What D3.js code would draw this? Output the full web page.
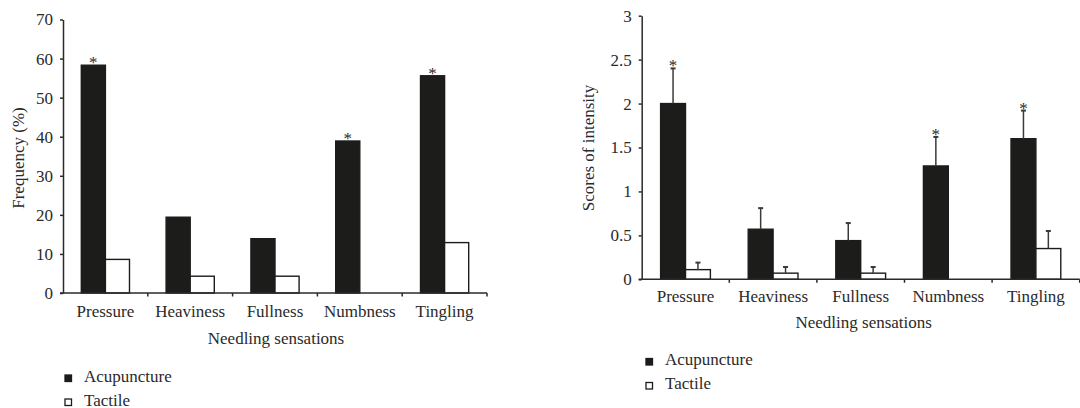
<!DOCTYPE html>
<html>
<head>
<meta charset="utf-8">
<script src="https://cdn.jsdelivr.net/npm/d3@7"></script>
<style>
  html, body { margin: 0; padding: 0; background: #fff; }
  svg { display: block; }
  text { font-family: "Liberation Serif", "DejaVu Serif", serif; fill: #2a2a2a; }
</style>
</head>
<body>
<svg id="chart" width="1080" height="408"></svg>
<script>
// ---- data ----
const categories = ["Pressure", "Heaviness", "Fullness", "Numbness", "Tingling"];
const seriesNames = ["Acupuncture", "Tactile"];

// Left panel: frequency (%)
const freqAcupuncture = [58.3, 19.4, 13.9, 38.9, 55.6];
const freqTactile = [8.6, 4.3, 4.3, 0, 12.9];
const freqTicks = [0, 10, 20, 30, 40, 50, 60, 70];
const freqSignificant = ["Pressure", "Numbness", "Tingling"];

// Right panel: scores of intensity (mean + SD)
const scoreAcupuncture = [2.0, 0.57, 0.44, 1.29, 1.6];
const scoreAcupunctureErr = [0.4, 0.24, 0.2, 0.33, 0.32];
const scoreTactile = [0.11, 0.07, 0.07, 0, 0.35];
const scoreTactileErr = [0.08, 0.07, 0.07, 0, 0.2];
const scoreTicks = [0, 0.5, 1, 1.5, 2, 2.5, 3];
const scoreTickLabels = ["0", "0.5", "1", "1.5", "2", "2.5", "3"];
const scoreSignificant = ["Pressure", "Numbness", "Tingling"];

const xTitle = "Needling sensations";

// ---- drawing ----
const svg = d3.select("#chart");
const FS = 17;
const barFill = ["#1c1c1a", "#ffffff"];
const axisColor = "#2a2a2a";

function panel(opts) {
  const g = svg.append("g");
  const x = d3.scaleBand().domain(categories).range([opts.x0, opts.x1]).padding(0);
  const xs = d3.scaleBand().domain(seriesNames).range([0, x.bandwidth()]).paddingInner(0).paddingOuter(0.76);
  const y = d3.scaleLinear().domain(opts.domain).range([opts.y0, opts.y1]);

  const values = [opts.a, opts.t];
  const errs = opts.errs;

  // bars
  seriesNames.forEach((s, si) => {
    g.selectAll(null).data(categories).enter().append("rect")
      .attr("x", c => x(c) + xs(s))
      .attr("y", (c, i) => y(values[si][i]))
      .attr("width", xs.bandwidth())
      .attr("height", (c, i) => y(0) - y(values[si][i]))
      .attr("fill", barFill[si])
      .attr("stroke", "#1c1c1a")
      .attr("stroke-width", 1.4);
  });

  // error bars
  if (errs) {
    seriesNames.forEach((s, si) => {
      categories.forEach((c, i) => {
        const v = values[si][i], e = errs[si][i];
        if (e <= 0) return;
        const cx = x(c) + xs(s) + xs.bandwidth() / 2;
        g.append("line").attr("x1", cx).attr("x2", cx)
          .attr("y1", y(v)).attr("y2", y(v + e))
          .attr("stroke", "#3a3a3a").attr("stroke-width", 1.5);
        g.append("line").attr("x1", cx - 2.5).attr("x2", cx + 2.5)
          .attr("y1", y(v + e)).attr("y2", y(v + e))
          .attr("stroke", "#3a3a3a").attr("stroke-width", 2);
      });
    });
  }

  // asterisks
  opts.sig.forEach(c => {
    const i = categories.indexOf(c);
    const top = opts.a[i] + (errs ? errs[0][i] : 0);
    g.append("text")
      .attr("x", x(c) + xs("Acupuncture") + xs.bandwidth() / 2)
      .attr("y", y(top) + 3)
      .attr("text-anchor", "middle")
      .attr("font-size", FS)
      .text("*");
  });

  // y axis
  const ya = g.append("g").attr("transform", `translate(${opts.x0},0)`)
    .call(d3.axisLeft(y).tickValues(opts.ticks).tickFormat((d, i) => opts.tickLabels[i])
      .tickSize(3).tickSizeOuter(0).tickPadding(7));
  ya.select(".domain").attr("stroke", axisColor).attr("stroke-width", 1.5);
  ya.selectAll(".tick line").attr("stroke", axisColor).attr("stroke-width", 1.5);
  ya.selectAll(".tick text").attr("font-size", FS).attr("font-family", "Liberation Serif").attr("fill", "#2a2a2a");

  // x axis line + boundary ticks
  g.append("line").attr("x1", opts.x0 - 3).attr("x2", opts.x1)
    .attr("y1", y(0)).attr("y2", y(0))
    .attr("stroke", axisColor).attr("stroke-width", 1.5);
  g.selectAll(null).data(categories).enter().append("line")
    .attr("x1", c => x(c) + x.bandwidth()).attr("x2", c => x(c) + x.bandwidth())
    .attr("y1", y(0)).attr("y2", y(0) + 3.5)
    .attr("stroke", axisColor).attr("stroke-width", 1.5);

  // category labels
  g.selectAll(null).data(categories).enter().append("text")
    .attr("x", c => x(c) + x.bandwidth() / 2)
    .attr("y", y(0) + opts.catDy)
    .attr("text-anchor", "middle")
    .attr("font-size", FS)
    .text(c => c);

  // x title
  g.append("text")
    .attr("x", (opts.x0 + opts.x1) / 2 + opts.titleDx)
    .attr("y", y(0) + opts.titleDy)
    .attr("text-anchor", "middle")
    .attr("font-size", FS)
    .text(xTitle);

  // y title
  g.append("text")
    .attr("transform", `translate(${opts.yLabelX},${opts.yLabelY}) rotate(-90)`)
    .attr("text-anchor", "middle")
    .attr("font-size", FS)
    .text(opts.yTitle);

  // legend
  seriesNames.forEach((s, si) => {
    const ly = opts.legendY + si * opts.legendStep;
    g.append("rect")
      .attr("x", opts.legendX).attr("y", ly - 6.5)
      .attr("width", 6.5).attr("height", 6.5)
      .attr("fill", barFill[si]).attr("stroke", "#1c1c1a").attr("stroke-width", 1.3);
    g.append("text")
      .attr("x", opts.legendX + 19).attr("y", ly)
      .attr("font-size", FS)
      .text(s);
  });
}

panel({
  x0: 63, x1: 487, y0: 293, y1: 19.5, domain: [0, 70],
  a: freqAcupuncture, t: freqTactile, errs: null,
  ticks: freqTicks, tickLabels: freqTicks.map(String),
  sig: freqSignificant,
  catDy: 24, titleDy: 51, titleDx: 1,
  yTitle: "Frequency (%)", yLabelX: 23.5, yLabelY: 158,
  legendX: 65, legendY: 381.5, legendStep: 24
});

panel({
  x0: 641.7, x1: 1079.7, y0: 279.3, y1: 15.7, domain: [0, 3],
  a: scoreAcupuncture, t: scoreTactile, errs: [scoreAcupunctureErr, scoreTactileErr],
  ticks: scoreTicks, tickLabels: scoreTickLabels,
  sig: scoreSignificant,
  catDy: 22.5, titleDy: 49, titleDx: 3,
  yTitle: "Scores of intensity", yLabelX: 593.5, yLabelY: 148,
  legendX: 646, legendY: 365, legendStep: 24
});
</script>
</body>
</html>
